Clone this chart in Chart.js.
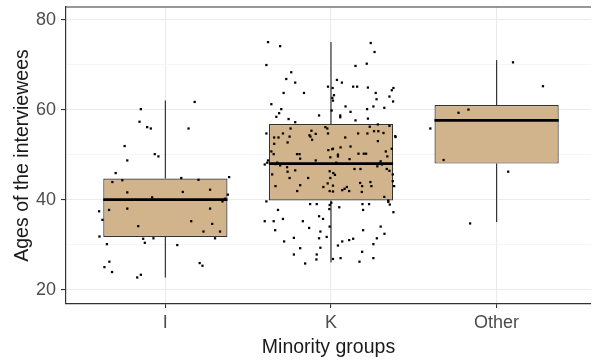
<!DOCTYPE html>
<html>
<head>
<meta charset="utf-8">
<script src="https://cdn.jsdelivr.net/npm/chart.js@4.4.1/dist/chart.umd.min.js"></script>
<style>
  html, body { margin: 0; padding: 0; background: #ffffff; }
  #wrap { width: 595px; height: 360px; }
</style>
</head>
<body>
<div id="wrap"><canvas id="c" width="595" height="360"></canvas></div>
<script>
// ---- data ----
const categories = ['I', 'K', 'Other'];
const xTitle = 'Minority groups';
const yTitle = 'Ages of the interviewees';
const yMajorTicks = [20, 40, 60, 80];
const yMinorTicks = [30, 50, 70];

const boxQ1 = [31.7, 39.8, 48.0];
const boxMedian = [40.0, 48.0, 57.6];
const boxQ3 = [44.7, 56.8, 61.0];
const whiskerLow = [22.7, 26.0, 35.0];
const whiskerHigh = [62.0, 75.0, 71.0];

// jittered observations: ages and horizontal offsets from the group centre
const iAges = [60.1,61.7,57.3,56.1,55.8,55.8,51.9,48.7,50.1,49.6,45.9,43.9,44.3,44.8,44.4,45.0,41.6,41.7,42.2,41.1,40.5,39.6,40.2,37.4,37.7,38.0,38.0,35.5,34.1,35.2,34.6,31.8,32.9,32.9,31.3,30.4,31.4,31.4,30.1,29.9,26.2,25.0,23.9,25.9,25.3,22.7,23.3];
const iJitter = [-0.148,0.177,-0.156,-0.11,-0.088,0.14,-0.246,-0.23,-0.064,-0.042,-0.30,-0.32,-0.26,0.096,0.20,0.385,-0.23,0.105,0.27,0.377,-0.08,0.345,0.36,-0.40,-0.34,-0.23,0.27,-0.38,-0.164,0.156,0.283,-0.398,0.23,0.33,-0.134,-0.124,-0.072,0.30,-0.353,0.072,-0.338,-0.368,-0.322,0.207,0.224,-0.17,-0.148];

const kAges = [
  75.0,74.1,69.9,68.3,66.8,66.0,63.7,63.7,61.2,60.1,59.2,58.4,58.7,65.1,64.8,66.6,66.0,63.2,62.6,62.0,74.8,72.8,70.2,69.7,65.1,65.1,64.9,63.7,62.3,62.9,64.3,64.8,61.8,60.7,59.5,60.1,60.7,60.4,59.8,58.7,58.3,58.0,57.9,57.2,57.6,
  54.7,55.8,53.8,53.8,54.7,54.0,55.3,54.3,54.0,54.6,53.3,52.4,52.7,54.7,55.8,51.2,51.0,50.7,50.1,50.1,50.1,49.1,48.7,48.2,48.7,49.4,56.1,
  56.2,56.7,56.4,55.2,55.2,54.8,54.7,54.7,53.9,53.8,53.0,51.3,51.6,51.8,50.0,49.6,50.2,50.7,51.3,49.6,49.0,50.2,50.2,48.5,54.1,
  48.2,47.9,47.6,47.2,46.5,46.2,45.6,44.8,44.8,43.0,43.2,42.8,43.6,41.9,41.9,39.6,39.0,39.0,47.8,
  48.2,48.0,47.8,47.4,46.8,46.4,46.8,46.8,46.3,45.9,45.5,44.8,43.7,43.9,43.0,43.0,43.1,42.8,42.4,42.1,41.9,41.8,41.7,45.6,44.1,43.0,40.6,39.8,39.3,39.0,39.0,39.5,
  38.8,37.9,38.3,37.7,37.7,38.9,37.2,35.2,35.2,35.7,35.2,36.3,35.7,33.2,33.7,32.9,34.0,31.7,31.4,31.5,30.7,33.2,34.0,32.4,31.4,31.3,31.0,30.7,29.8,30.1,29.2,29.3,27.8,27.8,26.7,25.8,28.4,26.8,27.0,26.2,27.0
];
const kJitter = [
  -0.38,-0.307,-0.39,-0.24,-0.27,-0.216,-0.286,-0.163,-0.36,-0.30,-0.313,-0.33,-0.072,-0.018,0.01,0.036,0.066,0.018,0.008,0.012,0.24,0.263,0.216,0.148,0.134,0.158,0.223,0.27,0.275,0.353,0.367,0.377,0.375,0.088,0.118,0.218,0.256,0.322,0.004,0.056,0.056,0.223,-0.256,-0.216,0.148,
  -0.39,-0.244,-0.343,-0.317,-0.29,-0.25,-0.118,-0.13,-0.124,-0.092,-0.114,-0.343,-0.262,-0.018,-0.022,0.008,-0.016,-0.36,-0.346,-0.205,-0.19,-0.186,-0.38,-0.325,-0.092,-0.004,-0.034,
  0.234,0.283,0.353,0.26,0.286,0.317,0.22,0.164,0.39,0.086,0.283,0.012,0.058,0.118,0.042,0.042,0.166,0.331,0.367,0.34,0.112,0.198,0.212,0.30,0.388,
  -0.385,-0.335,-0.307,-0.265,-0.216,-0.262,-0.355,-0.25,-0.138,-0.335,-0.186,-0.046,-0.02,-0.204,-0.008,-0.39,-0.126,-0.086,-0.4,
  0.032,0.293,0.307,0.28,0.337,0.353,0.142,0.178,-0.008,0.014,0.024,-0.004,0.176,0.238,0.188,0.244,0.012,0.096,0.082,0.068,0.11,0.012,0.186,0.373,0.373,0.381,0.322,0.346,0.002,0.19,0.23,0.346,
  -0.008,-0.01,0.05,-0.32,0.194,0.355,0.377,-0.4,-0.346,-0.29,-0.17,-0.072,-0.048,-0.337,-0.132,-0.064,-0.008,-0.026,-0.072,-0.224,-0.283,0.194,0.30,0.323,0.277,0.134,0.11,0.068,0.042,0.256,-0.186,-0.064,-0.224,-0.086,-0.088,-0.156,0.188,0.012,0.058,0.172,0.256
];

const oAges = [70.5, 65.2, 60.0, 59.3, 55.8, 48.8, 46.2, 34.7];
const oJitter = [0.099, 0.28, -0.17, -0.23, -0.40, -0.32, 0.07, -0.16];

const groupAges = [iAges, kAges, oAges];
const groupJitter = [iJitter, kJitter, oJitter];

// ---- styling ----
const FONT = "'Liberation Sans', Arial, Helvetica, sans-serif";
const BOX_FILL = '#D2B48C';
const DARK = '#333333';
const GRID_MAJOR = '#EBEBEB';
const GRID_MINOR = '#F4F4F4';
const BOX_HALF = 0.375;

const datasets = [];

// whiskers
categories.forEach((c, i) => {
  [[whiskerLow[i], boxQ1[i]], [boxQ3[i], whiskerHigh[i]]].forEach(([a, b]) => {
    datasets.push({
      type: 'line',
      data: [{ x: i + 1, y: a }, { x: i + 1, y: b }],
      borderColor: DARK,
      borderWidth: 1.2,
      pointRadius: 0,
      fill: false,
      order: 5
    });
  });
});

// boxes
datasets.push({
  type: 'bar',
  data: categories.map((c, i) => ({ x: i + 1, y: [boxQ1[i], boxQ3[i]] })),
  backgroundColor: BOX_FILL,
  borderColor: DARK,
  borderWidth: 1.2,
  borderSkipped: false,
  barPercentage: 0.75,
  categoryPercentage: 1.0,
  grouped: false,
  order: 4
});

// medians
categories.forEach((c, i) => {
  datasets.push({
    type: 'line',
    data: [{ x: i + 1 - BOX_HALF, y: boxMedian[i] }, { x: i + 1 + BOX_HALF, y: boxMedian[i] }],
    borderColor: '#000000',
    borderWidth: 2.6,
    pointRadius: 0,
    fill: false,
    order: 3
  });
});

// jittered points
categories.forEach((c, i) => {
  datasets.push({
    type: 'scatter',
    data: groupAges[i].map((a, j) => ({ x: i + 1 + groupJitter[i][j], y: a })),
    backgroundColor: '#000000',
    borderColor: '#000000',
    borderWidth: 0,
    pointRadius: 1.6,
    pointStyle: 'rect',
    order: 1
  });
});

const topBorder = {
  id: 'topBorder',
  afterDraw(chart) {
    const { ctx, chartArea } = chart;
    ctx.save();
    ctx.strokeStyle = DARK;
    ctx.lineWidth = 1.2;
    ctx.beginPath();
    ctx.moveTo(chartArea.left, chartArea.top);
    ctx.lineTo(chartArea.right, chartArea.top);
    ctx.stroke();
    ctx.restore();
  }
};

new Chart(document.getElementById('c'), {
  type: 'scatter',
  data: { datasets },
  plugins: [topBorder],
  options: {
    responsive: false,
    animation: false,
    devicePixelRatio: 1,
    layout: { padding: { top: 7, right: 0, bottom: 0, left: 0 } },
    plugins: { legend: { display: false }, tooltip: { enabled: false } },
    scales: {
      x: {
        type: 'linear',
        min: 0.4,
        max: 3.57,
        offset: false,
        afterBuildTicks: (s) => { s.ticks = categories.map((c, i) => ({ value: i + 1 })); },
        afterFit: (s) => { s.height = 56; s.paddingLeft = 0; s.paddingRight = 0; },
        ticks: {
          callback: (v) => categories[Math.round(v) - 1],
          font: { family: FONT, size: 18 },
          color: '#4D4D4D',
          padding: 4,
          maxRotation: 0
        },
        grid: { offset: false, color: GRID_MAJOR, lineWidth: 1.1, tickLength: 4, tickColor: DARK, tickWidth: 1.1 },
        border: { display: true, color: DARK, width: 1.2 },
        title: {
          display: true,
          text: xTitle,
          font: { family: FONT, size: 19.5 },
          color: '#1A1A1A',
          padding: { top: 0, bottom: 1 }
        }
      },
      y: {
        type: 'linear',
        min: 16.8,
        max: 82.8,
        afterBuildTicks: (s) => { s.ticks = yMajorTicks.concat(yMinorTicks).sort((a, b) => a - b).map(v => ({ value: v })); },
        afterFit: (s) => { s.width = 66; s.paddingTop = 0; s.paddingBottom = 0; },
        ticks: {
          callback: (v) => yMajorTicks.includes(v) ? String(v) : '',
          font: { family: FONT, size: 18 },
          color: '#4D4D4D',
          padding: 5
        },
        grid: {
          color: (ctx) => yMajorTicks.includes(ctx.tick && ctx.tick.value) ? GRID_MAJOR : GRID_MINOR,
          lineWidth: (ctx) => yMajorTicks.includes(ctx.tick && ctx.tick.value) ? 1.1 : 0.8,
          tickLength: 5,
          tickColor: (ctx) => yMajorTicks.includes(ctx.tick && ctx.tick.value) ? DARK : 'rgba(0,0,0,0)',
          tickWidth: 1.1
        },
        border: { display: true, color: DARK, width: 1.2 },
        title: {
          display: true,
          text: yTitle,
          font: { family: FONT, size: 19.5 },
          color: '#1A1A1A',
          padding: { top: 11, bottom: 0 }
        }
      }
    }
  }
});
</script>
</body>
</html>
